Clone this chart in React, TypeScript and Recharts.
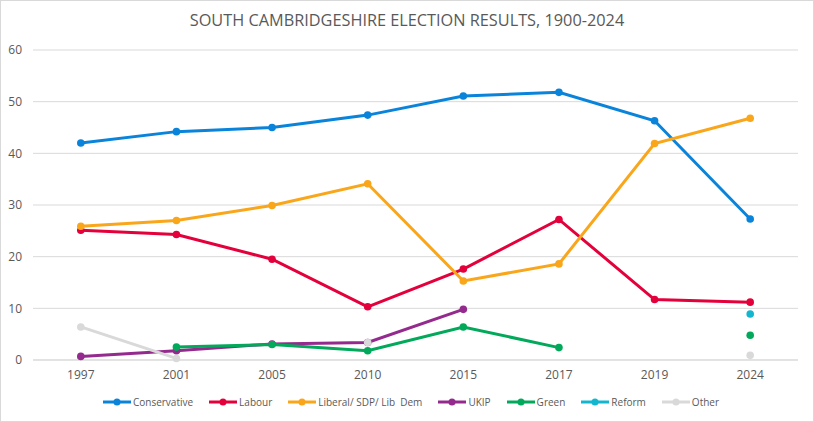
import React from 'react';
import { LineChart, Line, XAxis, YAxis, CartesianGrid, Legend } from 'recharts';

const years = ['1997', '2001', '2005', '2010', '2015', '2017', '2019', '2024'];
const conservative = [42.0, 44.2, 45.0, 47.4, 51.1, 51.8, 46.3, 27.3];
const labour = [25.1, 24.3, 19.5, 10.3, 17.6, 27.2, 11.7, 11.2];
const libDem = [25.9, 27.0, 29.9, 34.1, 15.3, 18.6, 41.9, 46.8];
const ukip = [0.7, 1.8, 3.1, 3.4, 9.8, null, null, null];
const green = [null, 2.5, 3.0, 1.8, 6.4, 2.4, null, 4.8];
const reform = [null, null, null, null, null, null, null, 8.9];
const other = [6.4, 0.3, null, 3.4, null, null, null, 0.9];
const yTicks = [0, 10, 20, 30, 40, 50, 60];

const series = [
  { key: 'Conservative', values: conservative, color: '#0A84DA' },
  { key: 'Labour', values: labour, color: '#E4003B' },
  { key: 'Liberal/ SDP/ Lib  Dem', values: libDem, color: '#FAA61A' },
  { key: 'UKIP', values: ukip, color: '#952A8E' },
  { key: 'Green', values: green, color: '#02A95B' },
  { key: 'Reform', values: reform, color: '#12B6CF' },
  { key: 'Other', values: other, color: '#D9D9D9' },
];

const data = years.map((y, i) => {
  const row: Record<string, any> = { year: y };
  series.forEach((s) => {
    row[s.key] = s.values[i];
  });
  return row;
});

const FONT = '"Open Sans", "Liberation Sans", sans-serif';

const LegendContent = () => (
  <div
    style={{
      display: 'flex',
      justifyContent: 'center',
      alignItems: 'center',
      gap: 16,
      fontFamily: FONT,
      fontSize: 10,
      color: '#595959',
    }}
  >
    {series.map((s) => (
      <div key={s.key} style={{ display: 'flex', alignItems: 'center' }}>
        <svg width={28} height={10} style={{ marginRight: 2 }}>
          <line x1={0} y1={5} x2={28} y2={5} stroke={s.color} strokeWidth={3} />
          <circle cx={14} cy={5} r={3.5} fill={s.color} />
        </svg>
        <span style={{ whiteSpace: 'pre' }}>{s.key}</span>
      </div>
    ))}
  </div>
);

export default function App() {
  return (
    <div
      style={{
        position: 'fixed',
        left: 0,
        top: 0,
        width: 814,
        height: 422,
        background: '#fff',
        border: '1px solid #d9d9d9',
        boxSizing: 'border-box',
        fontFamily: FONT,
      }}
    >
      <div
        style={{
          position: 'absolute',
          top: 8,
          left: 0,
          width: 812,
          textAlign: 'center',
          fontSize: 16.3,
          color: '#595959',
        }}
      >
        SOUTH CAMBRIDGESHIRE ELECTION RESULTS, 1900-2024
      </div>
      <div style={{ position: 'absolute', left: -1, top: -1 }}>
        <LineChart width={814} height={422} data={data} margin={{ top: 50, right: 16, left: 0, bottom: 32 }}>
          <CartesianGrid vertical={false} stroke="#d9d9d9" strokeWidth={1} />
          <XAxis
            dataKey="year"
            padding={{ left: 47.8, right: 47.8 }}
            tickLine={false}
            tickSize={0}
            tickMargin={10}
            axisLine={{ stroke: '#d9d9d9' }}
            tick={{ fill: '#595959', fontSize: 12, fontFamily: FONT }}
            height={30}
          />
          <YAxis
            width={33}
            domain={[0, 60]}
            ticks={yTicks}
            axisLine={false}
            tickLine={false}
            tickSize={0}
            tickMargin={11}
            tick={{ fill: '#595959', fontSize: 12, fontFamily: FONT }}
          />
          <Legend
            layout="horizontal"
            verticalAlign="middle"
            align="center"
            content={<LegendContent />}
            wrapperStyle={{ top: 395, left: 4, width: 814 }}
          />
          {series.map((s) => (
            <Line
              key={s.key}
              dataKey={s.key}
              stroke={s.color}
              strokeWidth={3}
              dot={{ r: 3.8, fill: s.color, stroke: s.color, strokeWidth: 0 }}
              activeDot={false}
              isAnimationActive={false}
              connectNulls={false}
            />
          ))}
        </LineChart>
      </div>
    </div>
  );
}
